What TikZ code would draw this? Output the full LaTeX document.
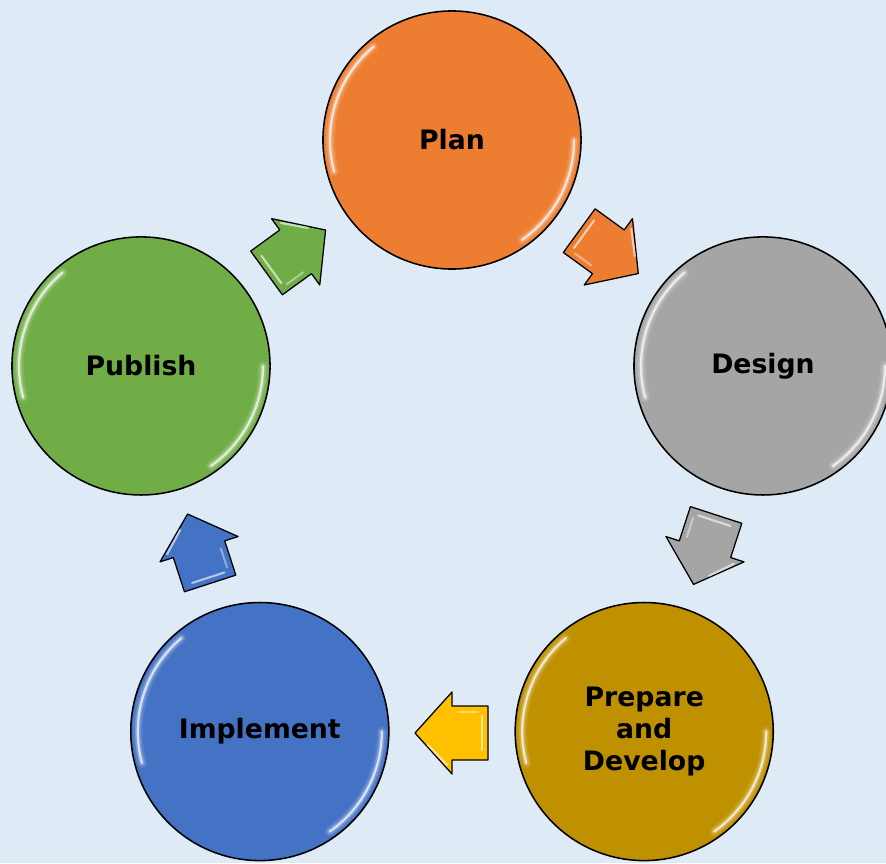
\documentclass[tikz,border=0pt]{standalone}
\usepackage{fontspec}
\setmainfont{DejaVu Sans}
\usepackage{tikz}

\definecolor{bgblue}{RGB}{222,234,246}
\definecolor{planorange}{RGB}{237,125,49}
\definecolor{designgray}{RGB}{165,165,165}
\definecolor{preparegold}{RGB}{191,144,0}
\definecolor{implblue}{RGB}{68,114,196}
\definecolor{pubgreen}{RGB}{112,173,71}
\definecolor{arrowyellow}{RGB}{255,192,0}

% glossy rim on a stage circle
\newcommand\shine[1]{%
	\foreach \w/\o in {7/0.10,4/0.22,1.6/0.7}{
		\draw[white,opacity=\o,line width=\w pt,line cap=round] ([shift={(130:122)}]#1.center) arc[start angle=130,end angle=195,radius=122];
		\draw[white,opacity=\o,line width=\w pt,line cap=round] ([shift={(-55:122)}]#1.center) arc[start angle=-55,end angle=0,radius=122];
	}}

\begin{document}
\begin{tikzpicture}[
			x = 0.025cm, y = 0.025cm,
			stage/.style = {circle, draw=black, line width=1.1pt, minimum size=6.45cm, inner sep=0pt,
				align=center, font=\fontsize{19}{23}\selectfont\bfseries},
			stagearrow/.pic = {
				\draw[pic actions, line width=0.9pt, line join=round] (-36,-27) -- (0,-27) -- (0,-41) -- (37,0) -- (0,41) -- (0,27) -- (-36,27) -- cycle;
				\draw[white, opacity=0.6, line width=1.5pt, line cap=round] (-30,-17) -- (-30,17);
				\draw[white, opacity=0.6, line width=1.5pt, line cap=round] (5,32) -- (24,12);
				\draw[white, opacity=0.4, line width=1.5pt, line cap=round] (-26,-21) -- (-6,-21);
			}]

			\useasboundingbox (0,0) rectangle (886,863);
			\clip (0,0) rectangle (886,863);
			\fill[bgblue] (0,0) rectangle (886,863);
			\coordinate (c) at (452,396);

			% stages
			\node[stage, fill=planorange] (plan) at ([shift={(90:327)}]c) {Plan};
			\node[stage, fill=designgray] (design) at ([shift={(18:327)}]c) {Design};
			\node[stage, fill=preparegold] (prepare) at ([shift={(-54:327)}]c) {Prepare\\and\\Develop};
			\node[stage, fill=implblue] (implement) at ([shift={(-126:327)}]c) {Implement};
			\node[stage, fill=pubgreen] (publish) at ([shift={(162:327)}]c) {Publish};

			\shine{plan} \shine{design} \shine{prepare} \shine{implement} \shine{publish}

			% arrows between stages
			\pic[fill=planorange, rotate=-36] at ([shift={(54:266)}]c) {stagearrow};
			\pic[fill=designgray, rotate=-108] at ([shift={(-18:266)}]c) {stagearrow};
			\pic[fill=arrowyellow, rotate=180] at ([shift={(-90:266)}]c) {stagearrow};
			\pic[fill=implblue, rotate=108] at ([shift={(-162:266)}]c) {stagearrow};
			\pic[fill=pubgreen, rotate=36] at ([shift={(126:266)}]c) {stagearrow};
		\end{tikzpicture}
\end{document}
